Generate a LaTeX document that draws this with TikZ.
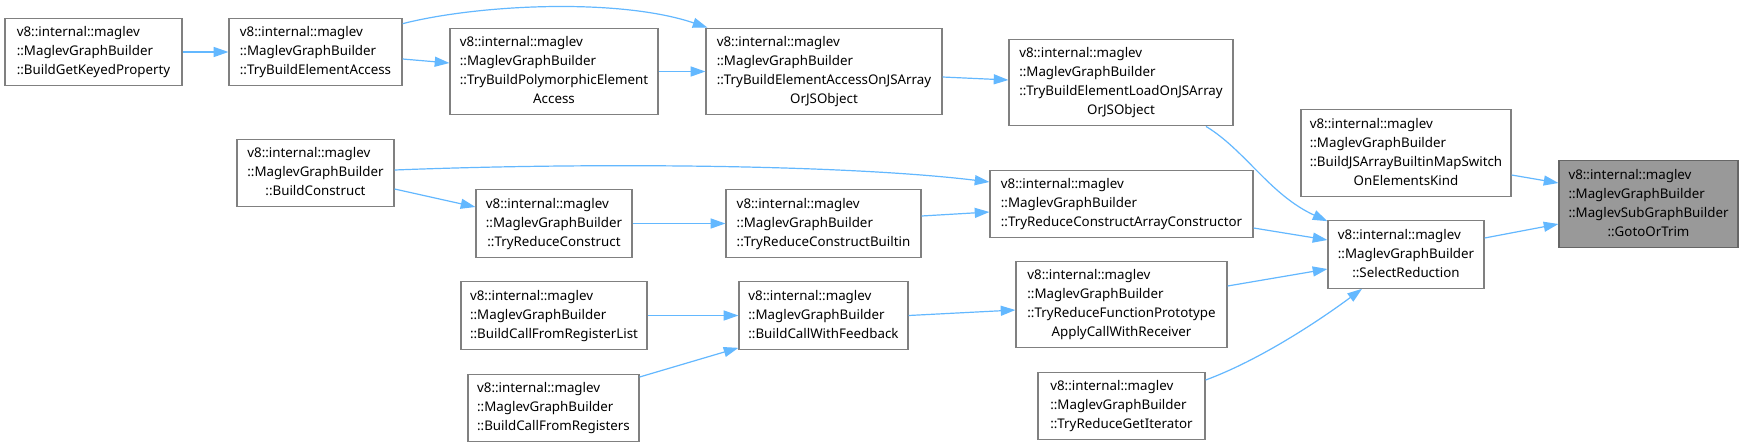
\documentclass[tikz,border=0pt]{standalone}
\usepackage{fontspec}
\setmainfont{Noto Sans}
\usepackage{tikz}
\usetikzlibrary{arrows.meta,calc}
\definecolor{edgeblue}{HTML}{63B8FF}
\definecolor{boxgray}{HTML}{808080}
\definecolor{focusgray}{HTML}{999999}
\definecolor{focusline}{HTML}{666666}
\newcommand{\fnlabel}[2]{\begin{tabular}{@{}l@{}}#1\\\multicolumn{1}{@{}c@{}}{#2}\end{tabular}}

\begin{document}
\begin{tikzpicture}[
  x=0.75pt, y=-0.75pt,
  fn/.style={draw=boxgray, line width=0.9pt, fill=white, inner sep=0pt, minimum height=50.6pt, font=\fontsize{10pt}{14.25pt}\selectfont},
  fn4/.style={fn, minimum height=65pt},
  focus/.style={fn4, draw=focusline, fill=focusgray},
  arr/.style={-{Triangle[length=11pt,width=7.5pt]}, line width=0.9pt, edgeblue}
]
\useasboundingbox[fill=white] (0,0) rectangle (1744,447);
\node[fn, minimum width=132.75pt] (getkeyed) at (93.5,52) {\fnlabel{v8::internal::maglev\\::MaglevGraphBuilder}{::BuildGetKeyedProperty}};
\node[fn, minimum width=129.75pt] (elemaccess) at (315.5,52) {\fnlabel{v8::internal::maglev\\::MaglevGraphBuilder}{::TryBuildElementAccess}};
\node[fn4, minimum width=156pt] (polyaccess) at (554,71.5) {\fnlabel{v8::internal::maglev\\::MaglevGraphBuilder\\::TryBuildPolymorphicElement}{Access}};
\node[fn4, minimum width=177pt] (accessjs) at (824,71.5) {\fnlabel{v8::internal::maglev\\::MaglevGraphBuilder\\::TryBuildElementAccessOnJSArray}{OrJSObject}};
\node[fn4, minimum width=168pt] (loadjs) at (1121,82.5) {\fnlabel{v8::internal::maglev\\::MaglevGraphBuilder\\::TryBuildElementLoadOnJSArray}{OrJSObject}};
\node[fn4, minimum width=157.5pt] (mapswitch) at (1406,153) {\fnlabel{v8::internal::maglev\\::MaglevGraphBuilder\\::BuildJSArrayBuiltinMapSwitch}{OnElementsKind}};
\node[focus, minimum width=134.25pt] (gotoortrim) at (1648.5,204) {\fnlabel{v8::internal::maglev\\::MaglevGraphBuilder\\::MaglevSubGraphBuilder}{::GotoOrTrim}};
\node[fn, minimum width=117.75pt] (buildconstruct) at (315.5,173) {\fnlabel{v8::internal::maglev\\::MaglevGraphBuilder}{::BuildConstruct}};
\node[fn, minimum width=117pt] (reduceconstruct) at (554,223.5) {\fnlabel{v8::internal::maglev\\::MaglevGraphBuilder}{::TryReduceConstruct}};
\node[fn, minimum width=146.25pt] (constructbuiltin) at (823.5,223.5) {\fnlabel{v8::internal::maglev\\::MaglevGraphBuilder}{::TryReduceConstructBuiltin}};
\node[fn, minimum width=197.25pt] (arrayconstructor) at (1121.5,204) {\fnlabel{v8::internal::maglev\\::MaglevGraphBuilder}{::TryReduceConstructArrayConstructor}};
\node[fn, minimum width=117pt] (selectreduction) at (1406,254.5) {\fnlabel{v8::internal::maglev\\::MaglevGraphBuilder}{::SelectReduction}};
\node[fn4, minimum width=158.25pt] (applycall) at (1121.5,304.5) {\fnlabel{v8::internal::maglev\\::MaglevGraphBuilder\\::TryReduceFunctionPrototype}{ApplyCallWithReceiver}};
\node[fn, minimum width=125.25pt] (getiterator) at (1121.5,406) {\fnlabel{v8::internal::maglev\\::MaglevGraphBuilder}{::TryReduceGetIterator}};
\node[fn, minimum width=139.5pt] (reglist) at (554,315.5) {\fnlabel{v8::internal::maglev\\::MaglevGraphBuilder}{::BuildCallFromRegisterList}};
\node[fn, minimum width=126.75pt] (callfeedback) at (823.5,315.5) {\fnlabel{v8::internal::maglev\\::MaglevGraphBuilder}{::BuildCallWithFeedback}};
\node[fn, minimum width=128.25pt] (registers) at (553.5,408) {\fnlabel{v8::internal::maglev\\::MaglevGraphBuilder}{::BuildCallFromRegisters}};
\draw[arr] (getkeyed) -- (elemaccess);
\draw[arr] ($(elemaccess.east)+(0,7)$) -- ($(polyaccess.west)+(0,-8.5)$);
\draw[arr] ($(elemaccess.north east)+(0,6)$) .. controls (480,4) and (620,-2) .. ($(accessjs.north west)+(2,0)$);
\draw[arr] (polyaccess) -- (accessjs);
\draw[arr] ($(accessjs.east)+(0,5.5)$) -- ($(loadjs.west)+(0,-2.5)$);
\draw[arr] ($(loadjs.south)+(85,0)$) .. controls (1245,150) and (1270,195) .. ($(selectreduction.north west)+(0,1)$);
\draw[arr] ($(mapswitch.east)+(0,22)$) -- ($(gotoortrim.west)+(0,-21)$);
\draw[arr] ($(selectreduction.east)+(0,-16.5)$) -- ($(gotoortrim.west)+(0,20)$);
\draw[arr] ($(buildconstruct.east)+(0,-3)$) .. controls (600,162) and (850,165) .. ($(arrayconstructor.west)+(0,-22)$);
\draw[arr] ($(buildconstruct.east)+(0,16)$) -- ($(reduceconstruct.west)+(0,-16.5)$);
\draw[arr] (reduceconstruct) -- (constructbuiltin);
\draw[arr] ($(constructbuiltin.east)+(0,-7.5)$) -- ($(arrayconstructor.west)+(0,8)$);
\draw[arr] ($(arrayconstructor.east)+(0,24)$) -- ($(selectreduction.west)+(0,-14.5)$);
\draw[arr] ($(applycall.east)+(0,-18.5)$) -- ($(selectreduction.west)+(0,14.5)$);
\draw[arr] ($(getiterator.east)+(0,-26)$) .. controls (1260,360) and (1320,320) .. ($(selectreduction.south)+(-44,0)$);
\draw[arr] (reglist) -- (callfeedback);
\draw[arr] ($(registers.east)+(0,-31)$) -- ($(callfeedback.south west)+(0,-2)$);
\draw[arr] (callfeedback.east) -- ($(applycall.west)+(0,5.5)$);
\end{tikzpicture}
\end{document}
